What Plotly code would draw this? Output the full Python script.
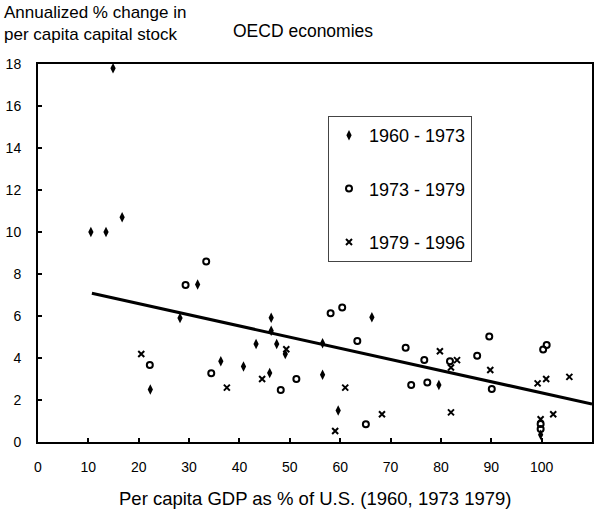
import plotly.graph_objects as go

# ---- data ----
gdp_1960 = [14.9, 10.5, 13.5, 16.7, 28.2, 31.7, 22.3, 36.3, 40.8, 43.3, 46.3, 46.3,
            47.4, 46.0, 49.1, 56.5, 56.5, 59.6, 66.3, 79.6, 99.8]
cap_1960_73 = [17.8, 10.0, 10.0, 10.7, 5.9, 7.5, 2.5, 3.85, 3.6, 4.67, 5.92, 5.3,
               4.67, 3.29, 4.19, 4.7, 3.2, 1.5, 5.94, 2.71, 0.35]

gdp_1973 = [29.3, 33.4, 22.2, 34.4, 48.2, 51.3, 58.1, 60.4, 63.4, 65.1, 73.0, 74.1,
            76.7, 77.3, 81.8, 87.2, 89.6, 90.1, 100.3, 101.0, 99.8, 99.8]
cap_1973_79 = [7.48, 8.59, 3.67, 3.27, 2.48, 3.0, 6.13, 6.41, 4.81, 0.84, 4.49, 2.71,
               3.9, 2.83, 3.84, 4.11, 5.02, 2.52, 4.41, 4.62, 0.86, 0.62]

gdp_1979 = [20.5, 37.5, 44.5, 49.3, 61.0, 59.0, 68.3, 79.8, 82.0, 83.2, 82.0, 89.8,
            99.2, 100.9, 102.3, 105.5, 99.8]
cap_1979_96 = [4.19, 2.59, 3.0, 4.42, 2.59, 0.52, 1.32, 4.32, 1.41, 3.9, 3.55, 3.43,
               2.79, 3.0, 1.32, 3.1, 1.08]

trend_x = [10.7, 110.0]
trend_y = [7.08, 1.81]

series_names = ["1960 - 1973", "1973 - 1979", "1979 - 1996"]
x_ticks = list(range(0, 111, 10))
y_ticks = list(range(0, 19, 2))

FONT = "Liberation Sans, Arial, sans-serif"

FIG_W, FIG_H = 596, 517
# plot-area geometry in pixels
L, R, T, B = 38, 592, 64, 442
W, H = R - L, B - T

fig = go.Figure()

fig.add_trace(go.Scatter(
    x=trend_x, y=trend_y, mode="lines", showlegend=False,
    line=dict(color="black", width=3), hoverinfo="skip", cliponaxis=False))

fig.add_trace(go.Scatter(
    x=gdp_1960, y=cap_1960_73, mode="markers", name=series_names[0],
    legendgroup="a", cliponaxis=False,
    marker=dict(symbol="diamond-tall", size=7.5, color="black",
                line=dict(width=0))))
fig.add_trace(go.Scatter(
    x=gdp_1973, y=cap_1973_79, mode="markers", name=series_names[1],
    legendgroup="b", cliponaxis=False,
    marker=dict(symbol="circle-open", size=6, color="black",
                line=dict(width=2, color="black"))))
fig.add_trace(go.Scatter(
    x=gdp_1979, y=cap_1979_96, mode="markers", name=series_names[2],
    legendgroup="c", cliponaxis=False,
    marker=dict(symbol="x-thin-open", size=6, color="black",
                line=dict(width=2, color="black"))))

fig.update_layout(
    width=FIG_W, height=FIG_H,
    margin=dict(l=L, r=FIG_W - R, t=T, b=FIG_H - B, autoexpand=False),
    paper_bgcolor="white", plot_bgcolor="white",
    font=dict(family=FONT, color="black", size=15),
    showlegend=True,
    legend=dict(
        x=(328 - L) / W, y=(B - 116) / H, xanchor="left", yanchor="top",
        bgcolor="white", bordercolor="#444", borderwidth=1,
        font=dict(size=18, family=FONT),
        tracegroupgap=27, itemwidth=30,
    ),
    xaxis=dict(
        range=[0, 110], tickvals=x_ticks, ticks="inside", ticklen=4,
        tickwidth=1.5, tickcolor="black",
        showline=True, linecolor="black", linewidth=1.5, mirror=True,
        showgrid=False, zeroline=False, automargin=False,
        tickfont=dict(family=FONT, size=14),
        ticklabelstandoff=11,
    ),
    yaxis=dict(
        range=[0, 18], tickvals=y_ticks, ticks="inside", ticklen=4,
        tickwidth=1.5, tickcolor="black",
        showline=True, linecolor="black", linewidth=2, mirror=True,
        showgrid=False, zeroline=False, automargin=False,
        tickfont=dict(family=FONT, size=14),
        ticklabelstandoff=12,
    ),
    annotations=[
        dict(text="Annualized % change in<br>per capita capital stock",
             xref="paper", yref="paper", x=(2 - L) / W, y=(B - 1) / H,
             xanchor="left", yanchor="top", align="left", showarrow=False,
             font=dict(size=17, family=FONT)),
        dict(text="OECD economies",
             xref="paper", yref="paper", x=(303 - L) / W, y=(B - 31) / H,
             xanchor="center", yanchor="middle", showarrow=False,
             font=dict(size=17.5, family=FONT)),
        dict(text="Per capita GDP as % of U.S. (1960, 1973 1979)",
             xref="paper", yref="paper", x=(315 - L) / W, y=(B - 499) / H,
             xanchor="center", yanchor="middle", showarrow=False,
             font=dict(size=18.5, family=FONT)),
    ],
)

fig.write_html("out.html",
               config={"displayModeBar": False},
               post_script="document.body.style.margin='0';")
